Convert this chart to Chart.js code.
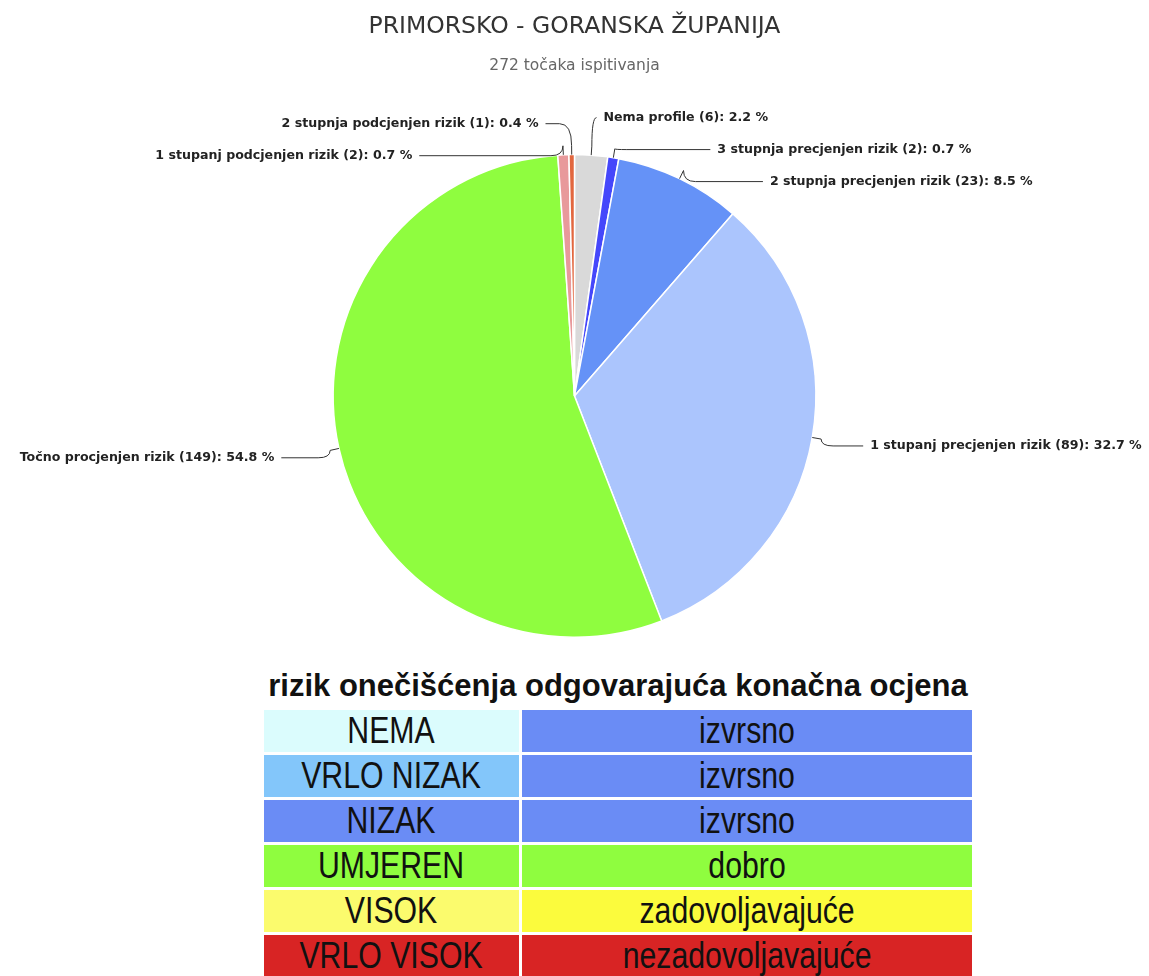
<!DOCTYPE html>
<html>
<head>
<meta charset="utf-8">
<script src="https://cdn.jsdelivr.net/npm/chart.js@4/dist/chart.umd.min.js"></script>
<style>
    body { margin: 0; background: #fff; }
    #wrap { position: relative; width: 1149px; height: 660px; }
    table.legenda {
        position: absolute; left: 261px; top: 669px;
        border-collapse: separate; border-spacing: 3px 3px;
        font-family: "Liberation Sans", Arial, sans-serif;
    }
    table.legenda caption {
        font-family: "Liberation Sans", Arial, sans-serif;
        font-weight: bold; font-size: 31px; line-height: 34px; color: #111; padding-bottom: 4px;
        white-space: nowrap;
    }
    table.legenda td {
        text-align: center; height: 42px; padding: 0; color: #111;
        font-size: 36px; line-height: 42px; overflow: hidden;
    }
    table.legenda td span {
        display: inline-block; transform: scaleX(0.84); transform-origin: center;
        white-space: nowrap;
    }
</style>
</head>
<body>
<div id="wrap"><canvas id="graficoZupanija" width="1149" height="660"></canvas></div>
<table class="legenda" id="legenda"></table>
<script>
var kategorije = [
    'Nema profile',
    '3 stupnja precjenjen rizik',
    '2 stupnja precjenjen rizik',
    '1 stupanj precjenjen rizik',
    'Točno procjenjen rizik',
    '1 stupanj podcjenjen rizik',
    '2 stupnja podcjenjen rizik'
];
var brojTocaka = [6, 2, 23, 89, 149, 2, 1];
var postotci = [2.2, 0.7, 8.5, 32.7, 54.8, 0.7, 0.4];
var boje = ['#d9d9d9', '#4547fb', '#6592f7', '#abc5fd', '#8ffd3f', '#e8999b', '#e2673f'];

var rizici = ['NEMA', 'VRLO NIZAK', 'NIZAK', 'UMJEREN', 'VISOK', 'VRLO VISOK'];
var ocjene = ['izvrsno', 'izvrsno', 'izvrsno', 'dobro', 'zadovoljavajuće', 'nezadovoljavajuće'];
var bojeRizika = ['#dbfcfd', '#83c6fa', '#6a8cf5', '#8ffd3f', '#fbfb6d', '#d82424'];
var bojeOcjena = ['#6a8cf5', '#6a8cf5', '#6a8cf5', '#8ffd3f', '#fbfb3d', '#d82424'];

var oznakePlugin = {
    id: 'oznake',
    afterDraw: function(chart) {
        var ctx = chart.ctx;
        var arcs = chart.getDatasetMeta(0).data;
        if (!arcs.length) return;
        var cx = arcs[0].x, cy = arcs[0].y, r = arcs[0].outerRadius;
        var L = r + 20, R2 = r + 30, razmak = 32, pomak = 5;
        var stavke = arcs.map(function(arc, i) {
            var a = (arc.startAngle + arc.endAngle) / 2;
            return {
                i: i, a: a,
                desno: Math.cos(a) >= 0,
                y0: cy + Math.sin(a) * L
            };
        });
        [true, false].forEach(function(strana) {
            var grupa = stavke.filter(function(s) { return s.desno === strana; });
            grupa.sort(function(p, q) { return p.y0 - q.y0; });
            var klasteri = grupa.map(function(s) { return { el: [s], sum: s.y0 }; });
            var promjena = true;
            function pozicija(k, j) { return k.sum / k.el.length - (k.el.length - 1) * razmak / 2 + j * razmak; }
            while (promjena) {
                promjena = false;
                for (var k = 0; k < klasteri.length - 1; k++) {
                    var A = klasteri[k], B = klasteri[k + 1];
                    if (pozicija(B, 0) - pozicija(A, A.el.length - 1) < razmak) {
                        A.el = A.el.concat(B.el); A.sum += B.sum;
                        klasteri.splice(k + 1, 1); promjena = true; break;
                    }
                }
            }
            klasteri.forEach(function(k) {
                k.el.forEach(function(s, j) { s.y = pozicija(k, j) + pomak; });
            });
        });

        ctx.save();
        ctx.font = 'bold 12.6px "DejaVu Sans", Verdana, sans-serif';
        ctx.textBaseline = 'middle';
        ctx.strokeStyle = '#333';
        ctx.lineWidth = 1;
        ctx.fillStyle = '#222';
        stavke.forEach(function(s) {
            var dy = s.y - cy;
            var dx = Math.sqrt(Math.max(0, R2 * R2 - dy * dy));
            var sgn = s.desno ? 1 : -1;
            var tx = cx + sgn * (dx + (s.desno ? 29 : 36));
            var p0x = cx + Math.cos(s.a) * r, p0y = cy + Math.sin(s.a) * r;
            var p1x = cx + Math.cos(s.a) * (r + 9), p1y = cy + Math.sin(s.a) * (r + 9);
            var ex = tx - sgn * 7;
            ctx.beginPath();
            ctx.moveTo(p0x, p0y);
            ctx.lineTo(p1x, p1y);
            ctx.quadraticCurveTo(p1x, s.y, p1x + sgn * Math.min(12, Math.abs(ex - p1x)), s.y);
            ctx.lineTo(ex, s.y);
            ctx.stroke();
            ctx.textAlign = s.desno ? 'left' : 'right';
            ctx.fillText(kategorije[s.i] + ' (' + brojTocaka[s.i] + '): ' + postotci[s.i].toFixed(1) + ' %', tx, s.y);
        });
        ctx.restore();
    }
};

var grafikon = new Chart(document.getElementById('graficoZupanija').getContext('2d'), {
    type: 'pie',
    data: {
        labels: kategorije,
        datasets: [{
            data: brojTocaka,
            backgroundColor: boje,
            borderColor: '#ffffff',
            borderWidth: 1.5
        }]
    },
    options: {
        responsive: false,
        animation: false,
        layout: { padding: { top: 0, bottom: 22 } },
        plugins: {
            legend: { display: false },
            tooltip: { enabled: false },
            title: {
                display: true,
                text: 'PRIMORSKO - GORANSKA ŽUPANIJA',
                color: '#333',
                font: { family: '"DejaVu Sans", Verdana, sans-serif', size: 23.5, weight: 'normal' },
                padding: { top: 13, bottom: 15 }
            },
            subtitle: {
                display: true,
                text: '272 točaka ispitivanja',
                color: '#666',
                font: { family: '"DejaVu Sans", Verdana, sans-serif', size: 15.5 },
                padding: { top: 0, bottom: 79 }
            }
        }
    },
    plugins: [oznakePlugin]
});

var tablica = document.getElementById('legenda');
var natpis = document.createElement('caption');
natpis.textContent = 'rizik onečišćenja odgovarajuća konačna ocjena';
tablica.appendChild(natpis);
rizici.forEach(function(rizik, i) {
    var red = document.createElement('tr');
    var c1 = document.createElement('td');
    c1.innerHTML = '<span>' + rizik + '</span>'; c1.style.background = bojeRizika[i]; c1.style.width = '255px';
    var c2 = document.createElement('td');
    c2.innerHTML = '<span>' + ocjene[i] + '</span>'; c2.style.background = bojeOcjena[i]; c2.style.width = '450px';
    red.appendChild(c1); red.appendChild(c2);
    tablica.appendChild(red);
});
</script>
</body>
</html>
